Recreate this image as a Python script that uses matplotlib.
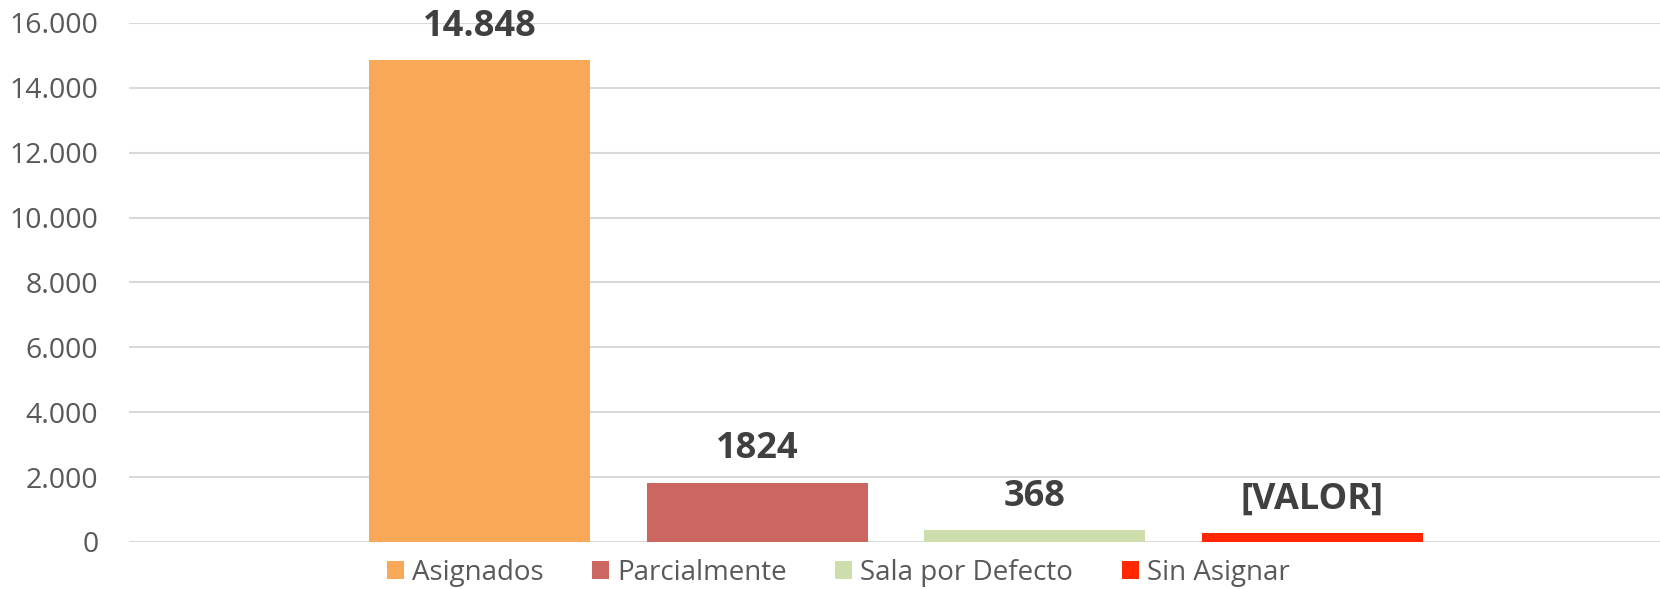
import matplotlib.pyplot as plt
from matplotlib.ticker import FuncFormatter

# data
categories = ["Asignados", "Parcialmente", "Sala por Defecto", "Sin Asignar"]
values = [14848, 1824, 368, 290]
value_labels = ["14.848", "1824", "368", "[VALOR]"]
colors = ["#F9A857", "#CC6660", "#CDDDAC", "#FF2600"]
yticks = [0, 2000, 4000, 6000, 8000, 10000, 12000, 14000, 16000]

plt.rcParams['font.family'] = ['Open Sans', 'DejaVu Sans']

fig = plt.figure(figsize=(16.6, 5.89), dpi=100)
ax = fig.add_axes([0.0777, 0.0798, 0.9223, 0.8812])

bars = []
for i, (cat, val, col) in enumerate(zip(categories, values, colors)):
    b = ax.bar(i, val, width=0.795, color=col, label=cat, zorder=3)
    bars.append(b)

for i, (val, lab) in enumerate(zip(values, value_labels)):
    ax.annotate(lab, (i, val), xytext=(0, 24), textcoords="offset points",
                ha="center", va="center", fontsize=26, fontweight="bold",
                color="#404040")

ax.set_xlim(-1.264, 4.253)
ax.set_ylim(0, 16000)
ax.set_yticks(yticks)
ax.yaxis.set_major_formatter(FuncFormatter(lambda v, p: f"{int(v):,}".replace(",", ".")))
ax.tick_params(axis="y", length=0, pad=22, labelsize=20.5, labelcolor="#595959")
ax.set_xticks([])
ax.grid(axis="y", color="#D9D9D9", linewidth=1.5, zorder=0)
for s in ax.spines.values():
    s.set_visible(False)

fig.legend(handles=bars, labels=categories, loc="center",
           bbox_to_anchor=(0.505, 0.028), ncol=4, frameon=False,
           fontsize=20, labelcolor="#595959", handlelength=0.6,
           handleheight=0.6, handletextpad=0.3, columnspacing=1.75)

fig.savefig("out.png", dpi=100)
